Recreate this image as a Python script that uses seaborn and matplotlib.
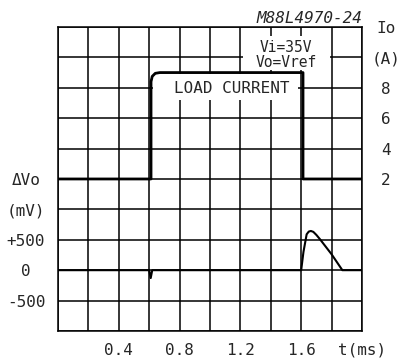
import numpy as np
import pandas as pd
import matplotlib
matplotlib.use("Agg")
import matplotlib.pyplot as plt
import seaborn as sns

# ── data ─────────────────────────────────────────────────────────────────────

# output voltage deviation (mV) vs time (ms)
t_vo = [0.0, 0.60, 0.61, 0.62, 1.60, 1.615, 1.636, 1.65, 1.664, 1.68, 1.70, 1.724, 1.80, 1.871, 2.0]
dvo_mv = [0, 0, -130, 0, 0, 300, 590, 635, 645, 630, 580, 508, 262, 0, 0]

# load current step (A) vs time (ms)
t_io = [0.0, 0.612, 0.612, 0.62, 0.64, 0.67, 1.612, 1.612, 2.0]
io_a = [2.0, 2.0, 8.4, 8.75, 8.95, 9.0, 9.0, 2.0, 2.0]

x_ticks = [0.4, 0.8, 1.2, 1.6, 2.0]
x_labels = ["0.4", "0.8", "1.2", "1.6", "t(ms)"]
vo_ticks = [-500, 0, 500, 1000, 1500]
vo_labels = ["-500", "0", "+500", "(mV)", "\u0394Vo"]
io_ticks = [2, 4, 6, 8, 10, 12]
io_labels = ["2", "4", "6", "8", "(A)", "Io"]

vo_df = pd.DataFrame({"t": t_vo, "dvo": dvo_mv})
io_df = pd.DataFrame({"t": t_io, "io": io_a})

# ── figure ───────────────────────────────────────────────────────────────────

sns.set_style("white")
plt.rcParams["font.family"] = ["DejaVu Sans Mono"]

fig = plt.figure(figsize=(4.03, 3.64), dpi=100)
ax = fig.add_axes([0.1439, 0.0907, 0.7543, 0.8352])

ax.set_xlim(0, 2.0)
ax.set_ylim(-1000, 4000)
ax.set_xticks(np.arange(0, 2.01, 0.2), minor=True)
ax.set_yticks(np.arange(-1000, 4001, 500), minor=True)
ax.set_xticks(x_ticks)
ax.set_xticklabels(x_labels)
ax.set_yticks(vo_ticks)
ax.set_yticklabels(vo_labels)
ax.grid(True, which="both", color="black", linewidth=1.1, zorder=0)
ax.set_axisbelow(True)
ax.tick_params(which="both", length=0)
ax.tick_params(axis="x", pad=8.5, labelsize=11.5)
ax.tick_params(axis="y", pad=23, labelsize=11.5)
for lab in ax.get_yticklabels():
    lab.set_horizontalalignment("center")
for s in ax.spines.values():
    s.set_color("black")
    s.set_linewidth(1.1)
ax.set_xlabel("")
ax.set_ylabel("")

# white masks that hide the grid behind the annotations
ax.text(1.105, 3013, " " * 14, ha="center", va="center", fontsize=11.5,
        bbox=dict(boxstyle="square,pad=0.32", fc="white", ec="none"), zorder=3)
ax.text(1.503, 3571, " " * 8, ha="center", va="center", fontsize=10,
        bbox=dict(boxstyle="square,pad=0.74", fc="white", ec="none"), zorder=3)

ax.text(1.145, 2988, "LOAD CURRENT", ha="center", va="center", fontsize=11.5, zorder=3.5)
ax.text(1.50, 3539, "Vi=35V\nVo=Vref", ha="center", va="center",
        multialignment="center", fontsize=10.5, linespacing=0.95, zorder=3.5)
ax.text(1.0, 1.013, "M88L4970-24", transform=ax.transAxes, ha="right", va="baseline",
        fontsize=11.5, style="italic")

sns.lineplot(data=vo_df, x="t", y="dvo", ax=ax, sort=False, estimator=None,
             color="black", linewidth=1.5, zorder=4)

# current on a twin axis
ax2 = ax.twinx()
ax2.set_ylim(-8, 12)
sns.lineplot(data=io_df, x="t", y="io", ax=ax2, sort=False, estimator=None,
             color="black", linewidth=2.0, zorder=4)
ax2.set_yticks(io_ticks)
ax2.set_yticklabels(io_labels)
ax2.tick_params(length=0, pad=17, labelsize=11.5)
for lab in ax2.get_yticklabels():
    lab.set_horizontalalignment("center")
ax2.set_ylabel("")
ax2.grid(False)
for s in ax2.spines.values():
    s.set_visible(False)

fig.savefig("out.png", dpi=100)
